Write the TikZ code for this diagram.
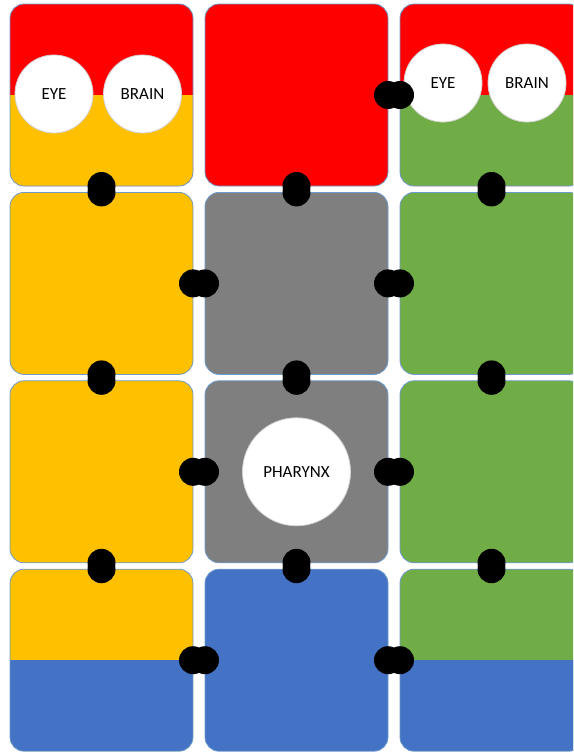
\documentclass[tikz,border=0pt]{standalone}
\usepackage{fontspec}
\setmainfont{Carlito}
\usepackage{tikz}
\usetikzlibrary{positioning}

\definecolor{segred}{RGB}{255,0,0}
\definecolor{segyellow}{RGB}{255,192,0}
\definecolor{seggreen}{RGB}{112,173,71}
\definecolor{seggray}{RGB}{127,127,127}
\definecolor{segblue}{RGB}{68,114,196}
\definecolor{cellline}{RGB}{110,155,205}

\begin{document}
\begin{tikzpicture}[
  x=1pt,y=-1pt,
  node distance=6.4pt and 12pt,
  cell/.style={draw=cellline,line width=0.8pt,rounded corners=14pt,outer sep=0pt,
    minimum width=183pt,minimum height=182pt,inner sep=0pt},
  lower/.style={path picture={\fill[#1,sharp corners] (path picture bounding box.west)
    rectangle (path picture bounding box.south east);}},
  organ/.style={circle,draw=gray!35,fill=white,line width=0.8pt,inner sep=0pt,
    minimum size=78pt,font=\fontsize{17}{20}\selectfont},
  joint/.style={fill=black}
]
  \useasboundingbox (0,0) rectangle (573,755);
  \clip (0,0) rectangle (573,755);

  % segments, row by row
  \node[cell,fill=segred,lower=segyellow] at (101.5,95) (c11) {};
  \node[cell,fill=segred,right=of c11] (c12) {};
  \node[cell,fill=segred,lower=seggreen,right=of c12] (c13) {};

  \node[cell,fill=segyellow,below=of c11] (c21) {};
  \node[cell,fill=seggray,right=of c21] (c22) {};
  \node[cell,fill=seggreen,right=of c22] (c23) {};

  \node[cell,fill=segyellow,below=of c21] (c31) {};
  \node[cell,fill=seggray,right=of c31] (c32) {};
  \node[cell,fill=seggreen,right=of c32] (c33) {};

  \node[cell,fill=segyellow,lower=segblue,below=of c31] (c41) {};
  \node[cell,fill=segblue,right=of c41] (c42) {};
  \node[cell,fill=seggreen,lower=segblue,right=of c42] (c43) {};

  % organs
  \node[organ] at (54,94) (eyeL) {EYE};
  \node[organ] at (142.5,94) (brainL) {BRAIN};
  \node[organ] at (443,83) (eyeR) {EYE};
  \node[organ] at (527,83) (brainR) {BRAIN};
  \node[organ,minimum size=108pt] at (c32.center) (pharynx) {PHARYNX};

  % joints
  \foreach \up/\down in {c11/c21,c12/c22,c13/c23,c21/c31,c22/c32,c23/c33,c31/c41,c32/c42,c33/c43}
    \fill[joint] (\up.south) circle[radius=14pt] (\down.north) circle[radius=14pt];
  \foreach \lt/\rt in {c12/c13,c21/c22,c22/c23,c31/c32,c32/c33,c41/c42,c42/c43}
    \fill[joint] (\lt.east) circle[radius=14pt] (\rt.west) circle[radius=14pt];
\end{tikzpicture}
\end{document}
